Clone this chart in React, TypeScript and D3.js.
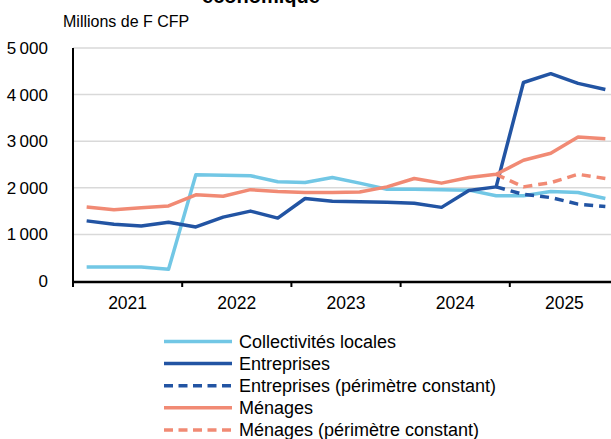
import React, { useEffect, useRef } from 'react';
import * as d3 from 'd3';

const years = ['2021', '2022', '2023', '2024', '2025'];
const quarters = d3.range(20);
const yTicks = [0, 1000, 2000, 3000, 4000, 5000];

const collectivites = [300, 300, 300, 250, 2280, 2270, 2260, 2130, 2115, 2220, 2100, 1970, 1970, 1960, 1950, 1830, 1830, 1920, 1900, 1770];
const entreprises = [1290, 1220, 1180, 1260, 1160, 1370, 1500, 1350, 1770, 1710, 1700, 1690, 1670, 1580, 1940, 2020, 4260, 4450, 4240, 4110];
const entreprisesConst = [null, null, null, null, null, null, null, null, null, null, null, null, null, null, null, 2020, 1860, 1790, 1650, 1600];
const menages = [1590, 1530, 1570, 1610, 1850, 1820, 1960, 1920, 1900, 1900, 1910, 2020, 2200, 2100, 2220, 2290, 2590, 2740, 3090, 3050];
const menagesConst = [null, null, null, null, null, null, null, null, null, null, null, null, null, null, null, 2290, 2020, 2110, 2290, 2200];

const LIGHT = '#72c7e5';
const DARK = '#2254a3';
const SALMON = '#f18a74';

const series = [
  { name: 'Collectivités locales', values: collectivites, color: LIGHT, dash: null },
  { name: 'Entreprises', values: entreprises, color: DARK, dash: null },
  { name: 'Entreprises (périmètre constant)', values: entreprisesConst, color: DARK, dash: '9,6' },
  { name: 'Ménages', values: menages, color: SALMON, dash: null },
  { name: 'Ménages (périmètre constant)', values: menagesConst, color: SALMON, dash: '9,6' },
];

const W = 611;
const H = 439;
const margin = { top: 48, left: 73, bottom: 281 };

export default function App() {
  const ref = useRef<SVGSVGElement>(null);

  useEffect(() => {
    const svg = d3.select(ref.current);
    svg.selectAll('*').remove();
    const font = 'Liberation Sans, Arial, sans-serif';

    const x = d3.scaleLinear().domain([0, 20]).range([margin.left, margin.left + 20 * 27.3]);
    const y = d3.scaleLinear().domain([0, 5000]).range([margin.bottom, margin.top]);

    // title (cut off at the top)
    svg.append('text')
      .attr('x', 261).attr('y', 3)
      .attr('text-anchor', 'middle')
      .attr('font-family', font).attr('font-weight', 'bold').attr('font-size', 20)
      .text('économique');

    svg.append('text')
      .attr('x', 63).attr('y', 27)
      .attr('font-family', font).attr('font-size', 16)
      .text('Millions de F CFP');

    // grid
    svg.append('g')
      .selectAll('line')
      .data(yTicks.filter(d => d > 0))
      .join('line')
      .attr('x1', margin.left).attr('x2', W)
      .attr('y1', d => y(d)).attr('y2', d => y(d))
      .attr('stroke', '#d9d9d9').attr('stroke-width', 1.5);

    // y labels
    svg.append('g')
      .selectAll('text')
      .data(yTicks)
      .join('text')
      .attr('x', 48).attr('y', d => y(d) + 6)
      .attr('text-anchor', 'end')
      .attr('font-family', font).attr('font-size', 17)
      .text(d => d === 0 ? '0' : d3.format(',')(d).replace(',', '\u2009'));

    // lines
    const line = d3.line<number | null>()
      .defined(d => d != null)
      .x((d, i) => x(i + 0.5))
      .y(d => y(d as number));

    series.forEach(s => {
      svg.append('path')
        .attr('d', line(s.values))
        .attr('fill', 'none')
        .attr('stroke', s.color)
        .attr('stroke-width', 3.5)
        .attr('stroke-linejoin', 'round')
        .attr('stroke-dasharray', s.dash);
    });

    // axes
    svg.append('line')
      .attr('x1', margin.left).attr('x2', margin.left)
      .attr('y1', margin.top).attr('y2', margin.bottom + 2)
      .attr('stroke', '#000').attr('stroke-width', 2);
    svg.append('line')
      .attr('x1', margin.left - 1).attr('x2', W)
      .attr('y1', margin.bottom + 1).attr('y2', margin.bottom + 1)
      .attr('stroke', '#000').attr('stroke-width', 2.5);
    svg.append('g')
      .selectAll('line')
      .data(d3.range(5))
      .join('line')
      .attr('x1', d => x(d * 4)).attr('x2', d => x(d * 4))
      .attr('y1', margin.bottom).attr('y2', margin.bottom + 6)
      .attr('stroke', '#000').attr('stroke-width', 2);
    svg.append('g')
      .selectAll('text')
      .data(years)
      .join('text')
      .attr('x', (d, i) => x(i * 4 + 2))
      .attr('y', 309)
      .attr('text-anchor', 'middle')
      .attr('font-family', font).attr('font-size', 17.5)
      .text(d => d);

    // legend
    const leg = svg.append('g');
    series.forEach((s, i) => {
      const cy = 341.5 + i * 22.1;
      leg.append('line')
        .attr('x1', 164).attr('x2', 232)
        .attr('y1', cy).attr('y2', cy)
        .attr('stroke', s.color).attr('stroke-width', 3.5)
        .attr('stroke-dasharray', s.dash ? '9,5.5' : null);
      leg.append('text')
        .attr('x', 239).attr('y', cy + 6.5)
        .attr('font-family', font).attr('font-size', 18)
        .text(s.name);
    });
  }, []);

  return <svg ref={ref} width={W} height={H} style={{ display: 'block', position: 'absolute', left: 0, top: 0 }} />;
}
